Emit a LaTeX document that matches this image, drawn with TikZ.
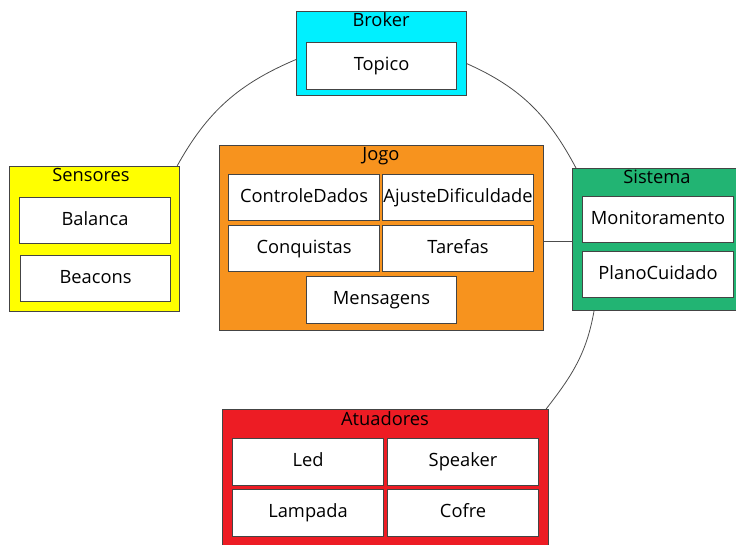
\documentclass[tikz,border=0pt]{standalone}
\usepackage{fontspec}
\setmainfont{Open Sans}
\usetikzlibrary{calc}

\definecolor{brokercol}{RGB}{0,240,255}
\definecolor{sensorcol}{RGB}{255,255,0}
\definecolor{sistemacol}{RGB}{34,180,115}
\definecolor{jogocol}{RGB}{247,147,30}
\definecolor{atuadorcol}{RGB}{237,28,36}
\definecolor{edgecol}{RGB}{68,68,68}

\tikzset{
  group/.style={draw=edgecol, line width=1.1pt, anchor=north west, inner sep=0pt},
  item/.style={draw=edgecol, line width=1.1pt, fill=white, anchor=north west,
    minimum width=151pt, minimum height=46pt, inner sep=0pt,
    text height=13.5pt, text depth=4.5pt,
    font=\fontsize{18.3}{21}\selectfont},
  title/.style={anchor=center, inner sep=0pt, text height=13.5pt, text depth=4.5pt,
    font=\fontsize{18.3}{21}\selectfont},
  link/.style={draw=black!70, line width=0.8pt},
}

\begin{document}
\begin{tikzpicture}[x=1pt,y=-1pt]
\useasboundingbox (0,0) rectangle (736,545);

% group boxes
\node[group, fill=brokercol,  minimum width=170pt, minimum height=84pt]  (broker)    at (296,11)  {};
\node[group, fill=sensorcol,  minimum width=170pt, minimum height=145pt] (sensores)  at (9,166)   {};
\node[group, fill=sistemacol, minimum width=170pt, minimum height=142pt] (sistema)   at (572,168) {};
\node[group, fill=jogocol,    minimum width=324pt, minimum height=185pt] (jogo)      at (219,145) {};
\node[group, fill=atuadorcol, minimum width=326pt, minimum height=150pt] (atuadores) at (222,409) {};

% titles
\node[title] (brokerT)    at (381,22)  {Broker};
\node[title] (sensoresT)  at (91,177)  {Sensores};
\node[title] (sistemaT)   at (657,179) {Sistema};
\node[title] (jogoT)      at (381,156) {Jogo};
\node[title] (atuadoresT) at (385,421) {Atuadores};

% components
\node[item, minimum width=150pt, minimum height=47pt] (topico) at (306,42) {Topico};

\node[item] (balanca) at (19,197) {Balanca};
\node[item, minimum width=150pt] (beacons) at (20,255) {Beacons};

\node[item] (monit) at (582,196) {Monitoramento};
\node[item] (plano) at (582,251) {PlanoCuidado};

\node[item] (controle) at (228,174) {ControleDados};
\node[item] (ajuste)   at (382,174) {AjusteDificuldade};
\node[item] (conq)     at (228,225) {Conquistas};
\node[item] (tarefas)  at (382,225) {Tarefas};
\node[item, minimum width=150pt, minimum height=47pt] (mens) at (306,276) {Mensagens};

\node[item, minimum height=47pt] (led)     at (232,438) {Led};
\node[item, minimum height=47pt] (speaker) at (387,438) {Speaker};
\node[item, minimum height=47pt] (lampada) at (232,489) {Lampada};
\node[item, minimum height=47pt] (cofre)   at (387,489) {Cofre};

% links between the groups
\draw[link] ($(broker.north west)!0.57!(broker.south west)$)
  to[out=203, in=61] ($(sensores.north east)+(-3,0)$);
\draw[link] ($(broker.north east)!0.62!(broker.south east)$)
  to[out=-24, in=118] ($(sistema.north west)+(4,0)$);
\draw[link] ($(sistema.south west)+(22,0)$)
  to[out=-100, in=52] ($(atuadores.north east)+(-3,0)$);
\coordinate (jogoR) at ($(jogo.north east)!0.52!(jogo.south east)$);
\draw[link] (jogoR) -- (jogoR -| sistema.west);
\end{tikzpicture}
\end{document}
